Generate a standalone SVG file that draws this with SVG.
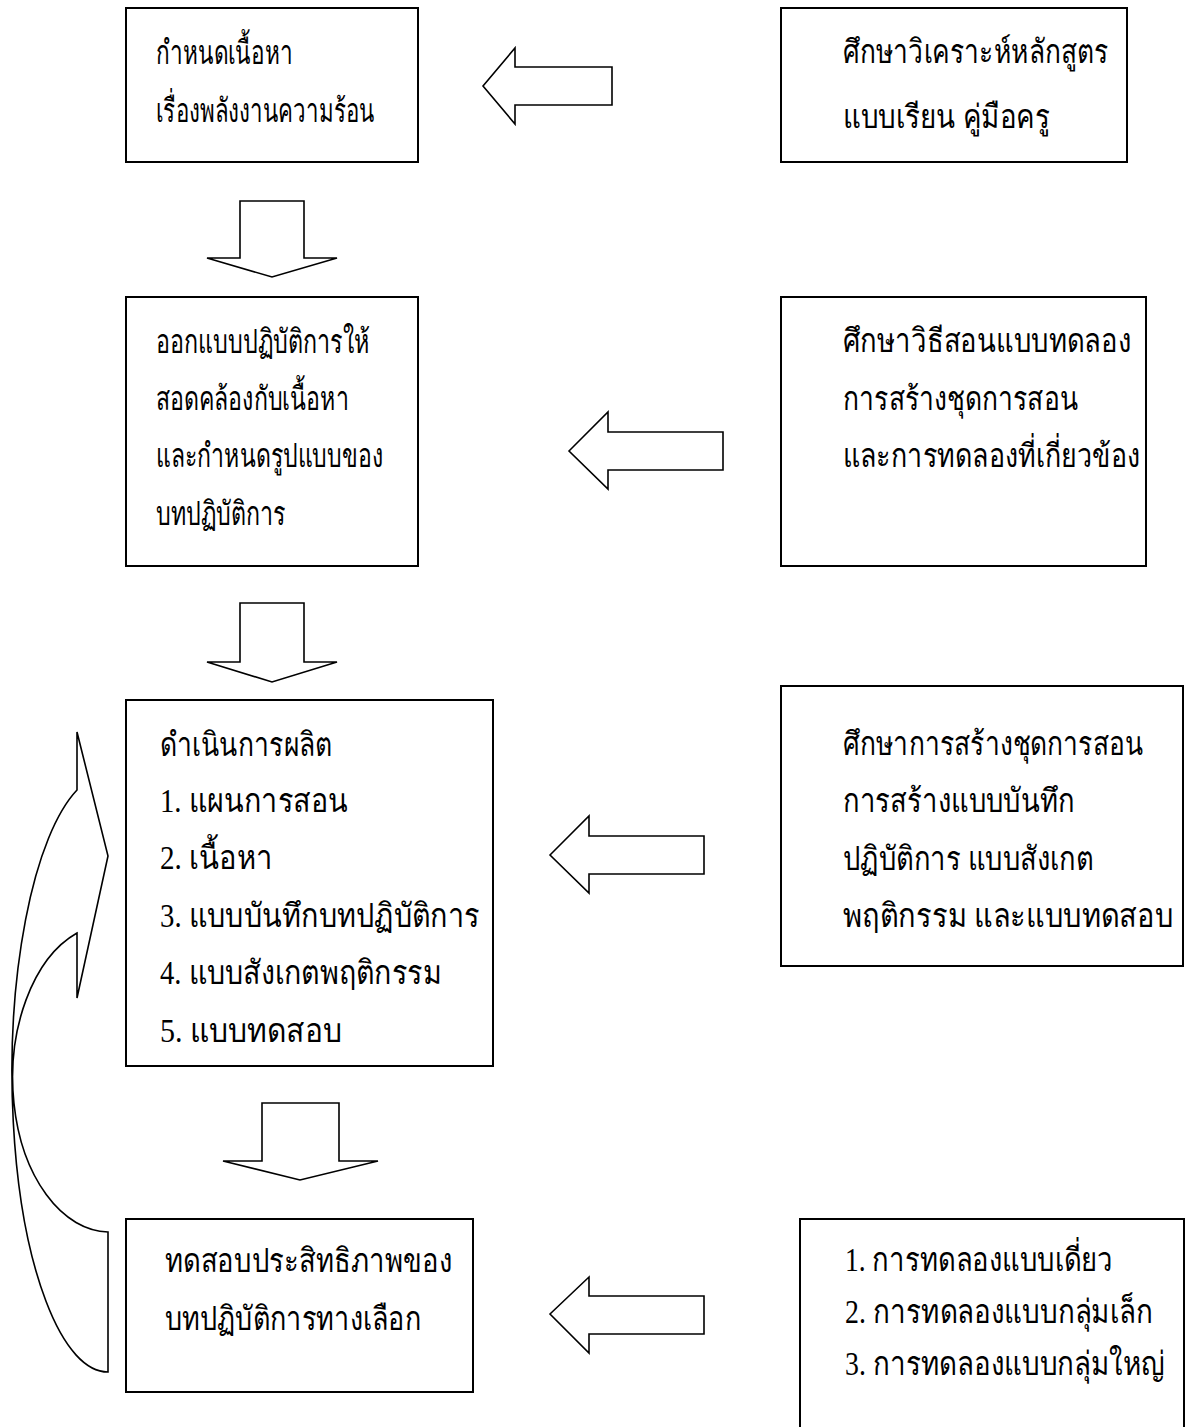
<svg xmlns="http://www.w3.org/2000/svg" width="1185" height="1427" viewBox="0 0 1185 1427">
<style>
.box{fill:#fff;stroke:#000;stroke-width:2}
.arr{fill:#fff;stroke:#000;stroke-width:1.6;stroke-linejoin:miter}
.curve{fill:none;stroke:#000;stroke-width:1.6}
.t{font-family:"Liberation Serif","DejaVu Serif",serif;font-size:33px;fill:#000}
</style>
<rect width="1185" height="1427" fill="#fff"/>
<g id="connectors">
<polygon class="arr" points="483,86 515,48 515,67 612,67 612,105 515,105 515,124"/>
<polygon class="arr" points="569,451 608,412 608,432 723,432 723,470 608,470 608,489"/>
<polygon class="arr" points="550,855 589,816 589,836 704,836 704,874 589,874 589,893"/>
<polygon class="arr" points="550,1314 589,1277 589,1296 704,1296 704,1334 589,1334 589,1353"/>
<polygon class="arr" points="240,201 304,201 304,258 337,258 272,277 207,258 240,258"/>
<polygon class="arr" points="240,603 304,603 304,662 337,662 272,682 207,662 240,662"/>
<polygon class="arr" points="262,1103 339,1103 339,1161 378,1161 300,1180 223,1161 262,1161"/>
<g id="loop">
<path class="curve" d="M77,790 A96,299 0 0 0 108,1372 L108,1232 A97,154 0 0 1 77,933 L77,998 L108,856 L77,732 Z"/>
</g>
</g>
<g id="n1">
<rect class="box" x="126" y="8" width="292" height="154"/>
<text class="t" x="156" y="64" textLength="137" lengthAdjust="spacingAndGlyphs">กำหนดเนื้อหา</text>
<text class="t" x="156" y="122" textLength="219" lengthAdjust="spacingAndGlyphs">เรื่องพลังงานความร้อน</text>
</g>
<g id="n2">
<rect class="box" x="781" y="8" width="346" height="154"/>
<text class="t" x="843" y="63" textLength="265" lengthAdjust="spacingAndGlyphs">ศึกษาวิเคราะห์หลักสูตร</text>
<text class="t" x="843" y="128" textLength="207" lengthAdjust="spacingAndGlyphs">แบบเรียน คู่มือครู</text>
</g>
<g id="n3">
<rect class="box" x="126" y="297" width="292" height="269"/>
<text class="t" x="156" y="353" textLength="214" lengthAdjust="spacingAndGlyphs">ออกแบบปฏิบัติการให้</text>
<text class="t" x="156" y="410" textLength="193" lengthAdjust="spacingAndGlyphs">สอดคล้องกับเนื้อหา</text>
<text class="t" x="156" y="467" textLength="227" lengthAdjust="spacingAndGlyphs">และกำหนดรูปแบบของ</text>
<text class="t" x="156" y="525" textLength="130" lengthAdjust="spacingAndGlyphs">บทปฏิบัติการ</text>
</g>
<g id="n4">
<rect class="box" x="781" y="297" width="365" height="269"/>
<text class="t" x="843" y="352" textLength="288" lengthAdjust="spacingAndGlyphs">ศึกษาวิธีสอนแบบทดลอง</text>
<text class="t" x="843" y="410" textLength="235" lengthAdjust="spacingAndGlyphs">การสร้างชุดการสอน</text>
<text class="t" x="843" y="467" textLength="297" lengthAdjust="spacingAndGlyphs">และการทดลองที่เกี่ยวข้อง</text>
</g>
<g id="n5">
<rect class="box" x="126" y="700" width="367" height="366"/>
<text class="t" x="160" y="756" textLength="172" lengthAdjust="spacingAndGlyphs">ดำเนินการผลิต</text>
<text class="t" x="160" y="812" textLength="188" lengthAdjust="spacingAndGlyphs">1.  แผนการสอน</text>
<text class="t" x="160" y="869" textLength="113" lengthAdjust="spacingAndGlyphs">2.  เนื้อหา</text>
<text class="t" x="160" y="927" textLength="320" lengthAdjust="spacingAndGlyphs">3.  แบบบันทึกบทปฏิบัติการ</text>
<text class="t" x="160" y="984" textLength="282" lengthAdjust="spacingAndGlyphs">4.  แบบสังเกตพฤติกรรม</text>
<text class="t" x="160" y="1042" textLength="182" lengthAdjust="spacingAndGlyphs">5.  แบบทดสอบ</text>
</g>
<g id="n6">
<rect class="box" x="781" y="686" width="402" height="280"/>
<text class="t" x="843" y="755" textLength="300" lengthAdjust="spacingAndGlyphs">ศึกษาการสร้างชุดการสอน</text>
<text class="t" x="843" y="812" textLength="232" lengthAdjust="spacingAndGlyphs">การสร้างแบบบันทึก</text>
<text class="t" x="843" y="870" textLength="250" lengthAdjust="spacingAndGlyphs">ปฏิบัติการ  แบบสังเกต</text>
<text class="t" x="843" y="927" textLength="330" lengthAdjust="spacingAndGlyphs">พฤติกรรม  และแบบทดสอบ</text>
</g>
<g id="n7">
<rect class="box" x="126" y="1219" width="347" height="173"/>
<text class="t" x="165" y="1272" textLength="287" lengthAdjust="spacingAndGlyphs">ทดสอบประสิทธิภาพของ</text>
<text class="t" x="165" y="1330" textLength="256" lengthAdjust="spacingAndGlyphs">บทปฏิบัติการทางเลือก</text>
</g>
<g id="n8">
<rect class="box" x="800" y="1219" width="384" height="240"/>
<text class="t" x="845" y="1271" textLength="268" lengthAdjust="spacingAndGlyphs">1.  การทดลองแบบเดี่ยว</text>
<text class="t" x="845" y="1323" textLength="308" lengthAdjust="spacingAndGlyphs">2.  การทดลองแบบกลุ่มเล็ก</text>
<text class="t" x="845" y="1375" textLength="320" lengthAdjust="spacingAndGlyphs">3. การทดลองแบบกลุ่มใหญ่</text>
</g>
</svg>
